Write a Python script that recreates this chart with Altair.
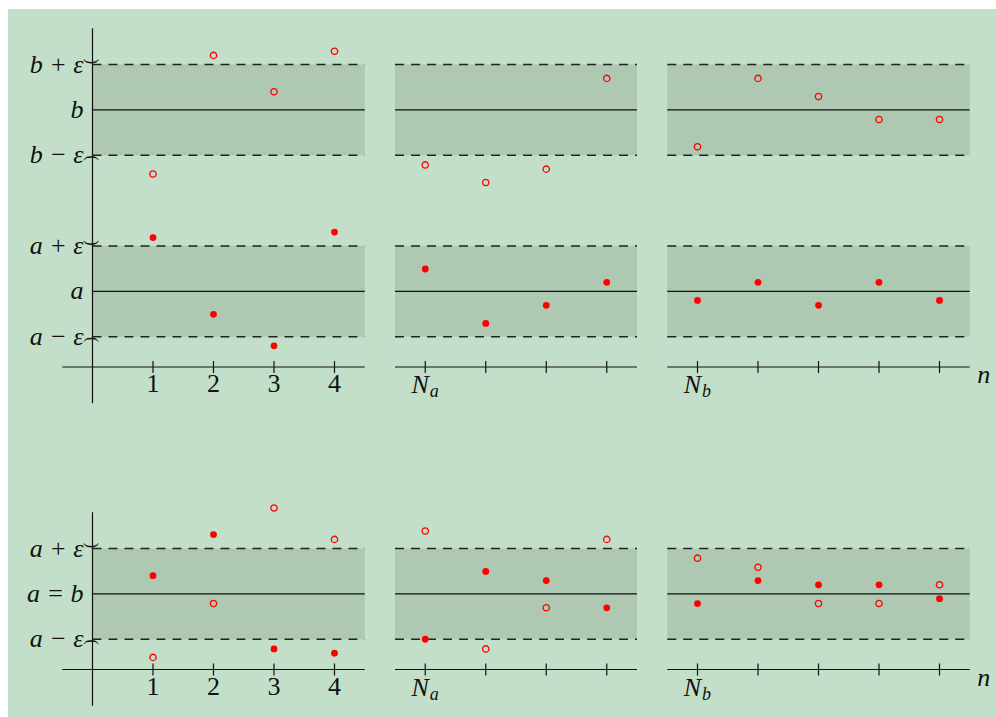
import altair as alt
import pandas as pd

# ---- style -------------------------------------------------------------
BG = "#c3dfc9"
BAND = "#aec8b2"
RED = "#ff0000"
INK = "#111111"
FONT = "Liberation Serif"
MATH_SIZE = 26
SUB_SIZE = 18

# ---- geometry of the drawing (in drawing units) -------------------------
A = 1.25          # limit a (also a = b in the lower figure)
B = 4.25          # limit b
EPS = 0.75        # epsilon
FIG_ORIGIN = [0.0, -5.0]          # y of the n-axis of the upper / lower figure
PANEL_X0 = [0.0, 5.0, 9.5]        # bands start
PANEL_X1 = [4.5, 9.0, 14.5]       # bands / axis segments end
AXIS_X0 = [-0.5, 5.0, 9.5]        # n-axis segments start
YAXIS_SPAN = [(-0.6, 5.6), (-0.6, 2.6)]  # vertical axis extent per figure
TICK_HALF = 0.1

# n positions: 1..4, then N_a and the next three, then N_b and the next four
N_POS = [1, 2, 3, 4, 5.5, 6.5, 7.5, 8.5, 10, 11, 12, 13, 14]
NUM_LABELS = ["1", "2", "3", "4"]
NUM_POS = [1, 2, 3, 4]
N_SUB_POS = [5.5, 10]
N_SUB_TEXT = ["a", "b"]

# ---- sequences -----------------------------------------------------------
# upper figure: a_n -> a (filled), b_n -> b (open)
TOP_A = [2.14, 0.87, 0.35, 2.23, 1.62, 0.72, 1.02, 1.40, 1.10, 1.40, 1.02, 1.40, 1.10]
TOP_B = [3.19, 5.15, 4.55, 5.22, 3.34, 3.05, 3.27, 4.77, 3.64, 4.77, 4.47, 4.09, 4.09]
# lower figure: both sequences -> a = b
BOT_A = [1.55, 2.23, 0.34, 0.27, 0.50, 1.62, 1.47, 1.02, 1.09, 1.47, 1.40, 1.40, 1.17]
BOT_B = [0.20, 1.09, 2.67, 2.15, 2.29, 0.34, 1.02, 2.15, 1.84, 1.69, 1.09, 1.09, 1.40]

# level labels of each figure
TOP_LEVELS = [B + EPS, B, B - EPS, A + EPS, A, A - EPS]
TOP_LEVEL_TEXT = ["b + ε", "b", "b − ε", "a + ε", "a", "a − ε"]
BOT_LEVELS = [A + EPS, A, A - EPS]
BOT_LEVEL_TEXT = ["a + ε", "a = b", "a − ε"]

# ---- scales (1 unit = 60.5 px) -------------------------------------------
UNIT = 60.5
W, H = 988, 708
X0_PX, Y0_PX = 84.5, 358.0
xs = alt.Scale(domain=[-X0_PX / UNIT, (W - X0_PX) / UNIT], nice=False, zero=False)
ys = alt.Scale(domain=[(Y0_PX - H) / UNIT, Y0_PX / UNIT], nice=False, zero=False)


def X(f):
    return alt.X(f, type="quantitative", scale=xs, axis=None)


def Y(f):
    return alt.Y(f, type="quantitative", scale=ys, axis=None)


# ---- tables --------------------------------------------------------------
centres = [[A, B], [A]]
bands, mids, edges, ups, downs = [], [], [], [], []
for fig, org in enumerate(FIG_ORIGIN):
    for c in centres[fig]:
        for x0, x1 in zip(PANEL_X0, PANEL_X1):
            bands.append(dict(x=x0, x2=x1, y=org + c - EPS, y2=org + c + EPS))
            mids.append(dict(x=x0, x2=x1, y=org + c))
            edges.append(dict(x=x0, x2=x1, y=org + c - EPS))
            edges.append(dict(x=x0, x2=x1, y=org + c + EPS))
        ups.append(dict(x=0.0, y=org + c + EPS))
        downs.append(dict(x=0.0, y=org + c - EPS))
bands, mids, edges = pd.DataFrame(bands), pd.DataFrame(mids), pd.DataFrame(edges)
ups, downs = pd.DataFrame(ups), pd.DataFrame(downs)

naxis = pd.DataFrame([dict(x=x0, x2=x1, y=org)
                      for org in FIG_ORIGIN for x0, x1 in zip(AXIS_X0, PANEL_X1)])
yaxis = pd.DataFrame([dict(x=0.0, y=org + lo, y2=org + hi)
                      for org, (lo, hi) in zip(FIG_ORIGIN, YAXIS_SPAN)])
ticks = pd.DataFrame([dict(x=n, y=org - TICK_HALF, y2=org + TICK_HALF)
                      for org in FIG_ORIGIN for n in N_POS])
nums = pd.DataFrame([dict(x=p, y=org, t=t)
                     for org in FIG_ORIGIN for p, t in zip(NUM_POS, NUM_LABELS)])
bigN = pd.DataFrame([dict(x=p, y=org, t="N") for org in FIG_ORIGIN for p in N_SUB_POS])
subs = pd.DataFrame([dict(x=p, y=org, t=s)
                     for org in FIG_ORIGIN for p, s in zip(N_SUB_POS, N_SUB_TEXT)])
nlab = pd.DataFrame([dict(x=PANEL_X1[-1], y=org, t="n") for org in FIG_ORIGIN])
levels = pd.DataFrame(
    [dict(x=0.0, y=FIG_ORIGIN[0] + v, t=t) for v, t in zip(TOP_LEVELS, TOP_LEVEL_TEXT)]
    + [dict(x=0.0, y=FIG_ORIGIN[1] + v, t=t) for v, t in zip(BOT_LEVELS, BOT_LEVEL_TEXT)]
)

filled = pd.DataFrame(
    [dict(x=n, y=FIG_ORIGIN[0] + v) for n, v in zip(N_POS, TOP_A)]
    + [dict(x=n, y=FIG_ORIGIN[1] + v) for n, v in zip(N_POS, BOT_A)]
)
hollow = pd.DataFrame(
    [dict(x=n, y=FIG_ORIGIN[0] + v) for n, v in zip(N_POS, TOP_B)]
    + [dict(x=n, y=FIG_ORIGIN[1] + v) for n, v in zip(N_POS, BOT_B)]
)

# ---- layers --------------------------------------------------------------
band_layer = alt.Chart(bands).mark_rect(color=BAND).encode(
    x=X("x"), x2="x2", y=Y("y"), y2="y2")
mid_layer = alt.Chart(mids).mark_rule(color=INK, strokeWidth=1.2).encode(
    x=X("x"), x2="x2", y=Y("y"))
edge_layer = alt.Chart(edges).mark_rule(
    color="#222222", strokeWidth=1.6, strokeDash=[9, 7]).encode(
    x=X("x"), x2="x2", y=Y("y"))
naxis_layer = alt.Chart(naxis).mark_rule(color=INK, strokeWidth=1.2).encode(
    x=X("x"), x2="x2", y=Y("y"))
yaxis_layer = alt.Chart(yaxis).mark_rule(color=INK, strokeWidth=1.2).encode(
    x=X("x"), y=Y("y"), y2="y2")
tick_layer = alt.Chart(ticks).mark_rule(color=INK, strokeWidth=1.2).encode(
    x=X("x"), y=Y("y"), y2="y2")

# small rotated parentheses marking the ends of each epsilon interval
up_layer = alt.Chart(ups).mark_text(
    text=")", angle=90, font=FONT, fontSize=16, color=INK,
    align="center", baseline="middle", dx=-3, dy=1).encode(x=X("x"), y=Y("y"))
down_layer = alt.Chart(downs).mark_text(
    text="(", angle=90, font=FONT, fontSize=16, color=INK,
    align="center", baseline="middle", dx=3, dy=1).encode(x=X("x"), y=Y("y"))

num_layer = alt.Chart(nums).mark_text(
    font=FONT, fontSize=MATH_SIZE, color=INK, align="center",
    baseline="alphabetic", dy=25).encode(x=X("x"), y=Y("y"), text="t:N")
N_layer = alt.Chart(bigN).mark_text(
    font=FONT, fontStyle="italic", fontSize=MATH_SIZE, color=INK, align="center",
    baseline="alphabetic", dx=-5, dy=26).encode(x=X("x"), y=Y("y"), text="t:N")
sub_layer = alt.Chart(subs).mark_text(
    font=FONT, fontStyle="italic", fontSize=SUB_SIZE, color=INK, align="center",
    baseline="alphabetic", dx=9, dy=30).encode(x=X("x"), y=Y("y"), text="t:N")
n_layer = alt.Chart(nlab).mark_text(
    font=FONT, fontStyle="italic", fontSize=MATH_SIZE, color=INK, align="center",
    baseline="alphabetic", dx=14, dy=16).encode(x=X("x"), y=Y("y"), text="t:N")
level_layer = alt.Chart(levels).mark_text(
    font=FONT, fontStyle="italic", fontSize=MATH_SIZE, color=INK, align="right",
    baseline="middle", dx=-9).encode(x=X("x"), y=Y("y"), text="t:N")

filled_layer = alt.Chart(filled).mark_circle(color=RED, size=46, opacity=1).encode(
    x=X("x"), y=Y("y"))
hollow_layer = alt.Chart(hollow).mark_point(
    shape="circle", filled=False, color=RED, strokeWidth=1.3, size=40, opacity=1).encode(
    x=X("x"), y=Y("y"))

chart = alt.layer(
    band_layer, mid_layer, edge_layer, naxis_layer, yaxis_layer, tick_layer,
    up_layer, down_layer, num_layer, N_layer, sub_layer, n_layer, level_layer,
    filled_layer, hollow_layer,
).properties(
    width=W, height=H, autosize="none",
    padding={"left": 8, "top": 9, "right": 0, "bottom": 0},
    background="white",
).configure_view(fill=BG, stroke=None)

chart.save("out.html", embed_options={"renderer": "svg", "actions": False})
